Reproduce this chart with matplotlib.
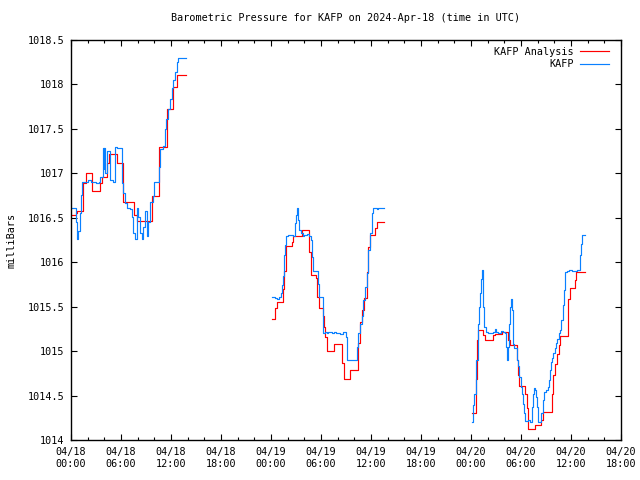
import numpy as np
import matplotlib
matplotlib.use("Agg")
import matplotlib.pyplot as plt
from matplotlib.ticker import MultipleLocator, FixedLocator

# ---- data: hours since 2024-04-18 00:00 UTC, pressure in mb ----
# KAFP Analysis (red), three segments
ana1_t = [0.00, 0.60, 0.72, 1.48, 1.74, 2.48, 3.48, 3.72, 4.28, 4.56, 5.48, 6.24, 7.56, 7.92, 9.68, 10.56, 11.48, 12.28, 12.68, 13.80]
ana1_v = [1016.53, 1016.55, 1016.58, 1016.89, 1017.00, 1016.80, 1016.89, 1016.96, 1017.12, 1017.22, 1017.12, 1016.68, 1016.53, 1016.46, 1016.75, 1017.30, 1017.72, 1017.97, 1018.11, 1018.11]

ana2_t = [24.16, 24.48, 24.76, 25.40, 25.56, 25.80, 26.48, 26.68, 27.68, 28.60, 28.80, 29.40, 29.56, 29.72, 30.20, 30.40, 30.52, 30.68, 31.56, 32.48, 32.76, 33.48, 34.48, 34.68, 34.88, 35.16, 35.48, 35.68, 35.88, 36.48, 36.76, 37.56]
ana2_v = [1015.36, 1015.49, 1015.55, 1015.70, 1015.90, 1016.18, 1016.23, 1016.29, 1016.36, 1016.12, 1015.86, 1015.82, 1015.61, 1015.48, 1015.40, 1015.27, 1015.16, 1015.00, 1015.08, 1014.87, 1014.69, 1014.79, 1015.09, 1015.33, 1015.46, 1015.60, 1015.89, 1016.17, 1016.31, 1016.38, 1016.45, 1016.45]

ana3_t = [48.16, 48.56, 48.60, 48.76, 48.88, 49.48, 49.72, 50.60, 50.88, 51.68, 52.48, 52.68, 53.48, 53.68, 53.80, 54.48, 54.68, 54.80, 55.68, 56.36, 56.60, 57.60, 57.72, 57.88, 58.08, 58.28, 58.56, 58.68, 59.60, 59.88, 60.48, 60.60, 61.72]
ana3_v = [1014.30, 1014.45, 1014.69, 1015.13, 1015.24, 1015.18, 1015.13, 1015.18, 1015.19, 1015.21, 1015.13, 1015.07, 1014.90, 1014.73, 1014.61, 1014.52, 1014.36, 1014.12, 1014.17, 1014.23, 1014.31, 1014.32, 1014.52, 1014.73, 1014.86, 1014.97, 1015.07, 1015.17, 1015.59, 1015.71, 1015.80, 1015.89, 1015.89]

# KAFP observations (blue), three segments
obs1_t = [0.00, 0.60, 0.62, 0.76, 0.85, 1.08, 1.20, 1.32, 2.00, 2.40, 3.00, 3.40, 3.48, 3.80, 3.90, 3.96, 4.10, 4.30, 4.70, 5.00, 5.28, 5.50, 5.88, 6.08, 6.28, 6.48, 6.68, 7.08, 7.28, 7.48, 7.68, 7.88, 8.08, 8.28, 8.48, 8.68, 8.88, 9.08, 9.28, 9.48, 9.80, 9.96, 10.48, 10.56, 10.64, 11.08, 11.28, 11.40, 11.68, 11.88, 12.08, 12.28, 12.48, 12.68, 12.88, 13.80]
obs1_v = [1016.61, 1016.61, 1016.45, 1016.26, 1016.35, 1016.55, 1016.76, 1016.90, 1016.92, 1016.90, 1016.89, 1016.90, 1016.96, 1017.28, 1017.05, 1017.28, 1017.00, 1017.25, 1016.93, 1016.90, 1017.30, 1017.28, 1017.28, 1016.89, 1016.78, 1016.67, 1016.61, 1016.60, 1016.51, 1016.33, 1016.26, 1016.61, 1016.51, 1016.33, 1016.26, 1016.40, 1016.58, 1016.30, 1016.45, 1016.68, 1016.74, 1016.90, 1016.90, 1017.07, 1017.27, 1017.31, 1017.50, 1017.61, 1017.72, 1017.84, 1017.96, 1018.05, 1018.14, 1018.25, 1018.30, 1018.30]

obs2_t = [24.16, 24.48, 24.72, 25.00, 25.16, 25.32, 25.40, 25.56, 25.72, 25.80, 26.00, 26.48, 26.64, 26.76, 26.88, 27.04, 27.16, 27.28, 27.40, 27.56, 27.80, 28.00, 28.28, 28.60, 28.76, 28.88, 29.00, 29.48, 29.60, 29.72, 30.12, 30.20, 30.28, 30.48, 30.68, 30.88, 31.28, 31.56, 31.80, 32.28, 32.68, 33.00, 33.16, 34.08, 34.28, 34.48, 34.68, 34.88, 35.08, 35.28, 35.48, 35.68, 35.88, 36.08, 36.20, 36.68, 36.88, 37.56]
obs2_v = [1015.61, 1015.60, 1015.59, 1015.61, 1015.65, 1015.74, 1015.84, 1016.08, 1016.19, 1016.29, 1016.31, 1016.31, 1016.29, 1016.29, 1016.44, 1016.53, 1016.61, 1016.47, 1016.36, 1016.33, 1016.29, 1016.31, 1016.32, 1016.29, 1016.25, 1016.06, 1015.90, 1015.90, 1015.76, 1015.61, 1015.61, 1015.47, 1015.20, 1015.21, 1015.20, 1015.21, 1015.20, 1015.22, 1015.20, 1015.19, 1015.21, 1015.16, 1014.90, 1014.90, 1015.05, 1015.20, 1015.30, 1015.40, 1015.58, 1015.72, 1015.88, 1016.14, 1016.33, 1016.55, 1016.61, 1016.60, 1016.61, 1016.61]

obs3_t = [48.16, 48.24, 48.32, 48.56, 48.64, 48.80, 48.92, 49.08, 49.20, 49.32, 49.40, 49.48, 49.56, 49.80, 50.08, 50.48, 50.68, 50.88, 51.00, 51.28, 51.56, 51.80, 52.08, 52.20, 52.32, 52.40, 52.52, 52.68, 52.80, 52.92, 53.00, 53.08, 53.20, 53.40, 53.56, 53.68, 53.80, 53.96, 54.12, 54.28, 54.40, 54.52, 54.88, 55.12, 55.28, 55.40, 55.52, 55.72, 55.84, 55.96, 56.08, 56.28, 56.44, 56.60, 56.76, 57.00, 57.20, 57.32, 57.48, 57.56, 57.72, 57.88, 58.04, 58.20, 58.36, 58.52, 58.68, 58.84, 59.00, 59.16, 59.32, 59.56, 59.80, 60.08, 60.48, 60.68, 61.00, 61.08, 61.20, 61.32, 61.72]
obs3_v = [1014.20, 1014.39, 1014.52, 1014.77, 1014.90, 1015.31, 1015.50, 1015.65, 1015.81, 1015.91, 1015.80, 1015.50, 1015.27, 1015.22, 1015.20, 1015.20, 1015.21, 1015.25, 1015.21, 1015.20, 1015.23, 1015.22, 1015.20, 1015.05, 1014.90, 1015.05, 1015.31, 1015.50, 1015.59, 1015.46, 1015.27, 1015.08, 1015.04, 1015.04, 1014.90, 1014.83, 1014.71, 1014.60, 1014.52, 1014.41, 1014.30, 1014.21, 1014.22, 1014.20, 1014.37, 1014.52, 1014.59, 1014.56, 1014.48, 1014.37, 1014.20, 1014.20, 1014.30, 1014.45, 1014.54, 1014.56, 1014.60, 1014.67, 1014.79, 1014.88, 1014.92, 1014.98, 1015.03, 1015.09, 1015.14, 1015.20, 1015.24, 1015.35, 1015.52, 1015.69, 1015.89, 1015.90, 1015.91, 1015.90, 1015.90, 1015.91, 1015.91, 1016.08, 1016.20, 1016.31, 1016.31]

x_tick_labels = ["04/18\n00:00", "04/18\n06:00", "04/18\n12:00", "04/18\n18:00",
                 "04/19\n00:00", "04/19\n06:00", "04/19\n12:00", "04/19\n18:00",
                 "04/20\n00:00", "04/20\n06:00", "04/20\n12:00", "04/20\n18:00"]
y_ticks = [1014, 1014.5, 1015, 1015.5, 1016, 1016.5, 1017, 1017.5, 1018, 1018.5]

title = "Barometric Pressure for KAFP on 2024-Apr-18 (time in UTC)"

FONT = "DejaVu Sans Mono"
FS = 7.3
RED = "#ff0000"
BLUE = "#0a80ff"

fig = plt.figure(figsize=(6.4, 4.8), dpi=100)
ax = fig.add_axes([71/640, 1 - 440/480, 550/640, 400/480])

ana = [(ana1_t, ana1_v), (ana2_t, ana2_v), (ana3_t, ana3_v)]
obs = [(obs1_t, obs1_v), (obs2_t, obs2_v), (obs3_t, obs3_v)]
for i, (t, v) in enumerate(ana):
    ax.plot(t, v, color=RED, lw=0.85, drawstyle="steps-post",
            label="KAFP Analysis" if i == 0 else None)
for i, (t, v) in enumerate(obs):
    ax.plot(t, v, color=BLUE, lw=0.85, drawstyle="steps-post",
            label="KAFP" if i == 0 else None)

ax.set_xlim(0, 66)
ax.set_ylim(1014, 1018.5)
ax.xaxis.set_major_locator(FixedLocator(np.arange(0, 67, 6)))
ax.xaxis.set_minor_locator(MultipleLocator(2))
ax.set_xticklabels(x_tick_labels, family=FONT, fontsize=FS)
ax.set_yticks(y_ticks)
ax.set_yticklabels(["%g" % y for y in y_ticks], family=FONT, fontsize=FS)
ax.tick_params(which="major", direction="in", length=4, width=0.8,
               top=True, right=True, pad=5)
ax.tick_params(which="minor", direction="in", length=2.2, width=0.8,
               top=True, right=False)
ax.tick_params(axis="y", which="minor", left=False, right=False)
for s in ax.spines.values():
    s.set_linewidth(1.0)

ax.set_ylabel("milliBars", family=FONT, fontsize=FS, labelpad=8)
ax.set_title(title, family=FONT, fontsize=FS, pad=14)

leg = ax.legend(loc="upper right", frameon=False, markerfirst=False,
                prop={"family": FONT, "size": FS}, handlelength=2.9,
                handletextpad=0.6, labelspacing=0.25, borderaxespad=0.0,
                borderpad=0.2, bbox_to_anchor=(1 - 10/550, 1 - 4.5/400))
for txt in leg.get_texts():
    txt.set_ha("right")

fig.savefig("out.png", dpi=100)
